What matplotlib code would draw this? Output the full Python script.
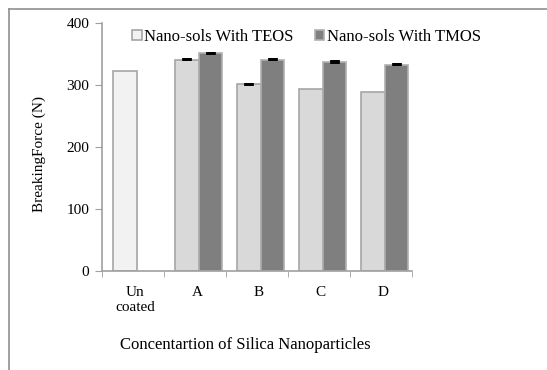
import numpy as np
import matplotlib.pyplot as plt
from matplotlib.lines import Line2D

plt.rcParams['font.family'] = ['Liberation Serif', 'DejaVu Serif']

categories = ['Un\ncoated', 'A', 'B', 'C', 'D']
teos = [323, 341, 301, 293, 289]
tmos = [np.nan, 351, 341, 337, 333]
teos_err = [0, 2, 2.5, 0, 0]
tmos_err = [0, 2.5, 2, 3, 3]

fig = plt.figure(figsize=(5.47, 3.70), dpi=100)
fig.patch.set_facecolor('white')
ax = fig.add_axes([102/547, 1 - 271/370, 310/547, 248/370])

x = np.arange(len(categories))
w = 0.38
shift = 0.06
colors_teos = ['#f2f2f2'] + ['#d9d9d9'] * 4
ax.bar(x - w/2 + shift, teos, w, color=colors_teos, edgecolor='#a6a6a6', linewidth=1.2,
       label='Nano-sols With TEOS')
ax.bar(x + w/2 + shift, tmos, w, color='#7f7f7f', edgecolor='#b0b0b0', linewidth=1.2,
       label='Nano-sols With TMOS')
for i in range(len(categories)):
    if teos_err[i] > 0:
        ax.errorbar(x[i] - w/2 + shift, teos[i], yerr=teos_err[i], fmt='none',
                    ecolor='black', elinewidth=7, capsize=0)
    if tmos_err[i] > 0:
        ax.errorbar(x[i] + w/2 + shift, tmos[i], yerr=tmos_err[i], fmt='none',
                    ecolor='black', elinewidth=7, capsize=0)

ax.set_xlim(-0.5, 4.5)
ax.set_ylim(0, 400)
ax.set_yticks([0, 100, 200, 300, 400])
ax.set_xticks(x + 0.03)
ax.set_xticklabels(categories, fontsize=11, linespacing=1.15)
ax.set_xticks(np.arange(-0.5, 5, 1), minor=True)
ax.tick_params(axis='x', which='major', length=0, pad=11)
ax.tick_params(axis='x', which='minor', length=4, color='#a0a0a0')
ax.tick_params(axis='y', length=5, color='#a0a0a0', labelsize=11, pad=4)
for s in ['top', 'right']:
    ax.spines[s].set_visible(False)
for s in ['left', 'bottom']:
    ax.spines[s].set_color('#a0a0a0')
    ax.spines[s].set_linewidth(1.2)

ax.set_ylabel('BreakingForce (N)', fontsize=11)
ax.yaxis.set_label_coords(-0.18, 0.47)
ax.set_xlabel('Concentartion of Silica Nanoparticles', fontsize=12)
ax.xaxis.set_label_coords(0.461, -0.265)

ax.legend(loc='center', bbox_to_anchor=(0.66, 0.945), ncol=2, frameon=False,
          fontsize=12, handlelength=0.55, handleheight=0.55, handletextpad=0.15,
          columnspacing=1.3)

fig.add_artist(Line2D([9/547, 1], [1 - 9/370, 1 - 9/370], transform=fig.transFigure,
                      color='#909090', linewidth=1.2))
fig.add_artist(Line2D([9/547, 9/547], [0, 1 - 9/370], transform=fig.transFigure,
                      color='#909090', linewidth=1.2))

fig.savefig('out.png', dpi=100)
